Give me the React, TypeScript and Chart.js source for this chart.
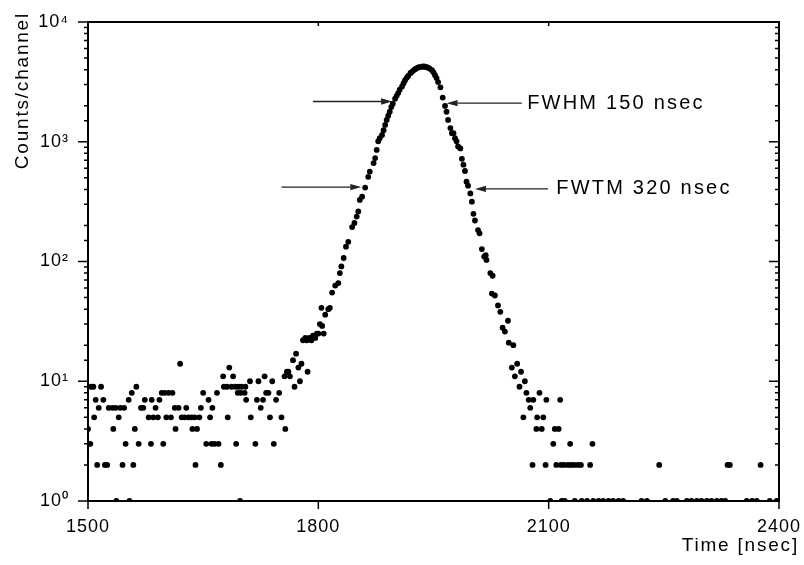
import React, { useEffect, useRef } from 'react';
import { Chart, registerables } from 'chart.js';

Chart.register(...registerables);

const FONT = '"Liberation Sans", Arial, Helvetica, sans-serif';

const xTitle = 'Time [nsec]';
const yTitle = 'Counts/channel';
const xTickValues = [1500, 1800, 2100, 2400];
const supDigits = ['\u2070', '\u00B9', '\u00B2', '\u00B3', '\u2074'];

// Flat background before the peak
const baseTimes = [
  1500, 1503, 1504, 1507, 1508, 1510, 1512, 1514, 1517, 1520,
  1522, 1525, 1527, 1532, 1533, 1536, 1537, 1540, 1542, 1545,
  1547, 1549, 1553, 1554, 1557, 1559, 1561, 1563, 1566, 1569,
  1572, 1574, 1579, 1582, 1583, 1585, 1588, 1591, 1593, 1596,
  1598, 1600, 1602, 1605, 1608, 1610, 1613, 1614, 1618, 1620,
  1622, 1626, 1628, 1631, 1635, 1636, 1639, 1640, 1642, 1645,
  1647, 1650, 1654, 1657, 1659, 1661, 1662, 1665, 1668, 1670,
  1673, 1676, 1677, 1681, 1682, 1684, 1687, 1689, 1692, 1693,
  1695, 1696, 1698, 1699, 1700, 1704, 1705, 1706, 1711, 1712,
  1718, 1720, 1722, 1725, 1728, 1730, 1732, 1735, 1737, 1740,
  1742, 1745, 1749, 1752, 1756, 1757, 1759, 1761, 1763, 1767,
  1769, 1771, 1774, 1776, 1778, 1780, 1783, 1785, 1786, 1788,
  1791, 1793, 1796, 1798,
];
const baseCounts = [
  4, 3, 9, 9, 5, 7, 2, 6, 9, 7,
  2, 2, 6, 6, 4, 6, 1, 5, 6, 2,
  6, 3, 7, 1, 8, 2, 4, 9, 3, 6,
  6, 7, 5, 3, 7, 5, 6, 5, 7, 8,
  3, 8, 5, 8, 5, 8, 6, 4, 6, 14,
  5, 5, 6, 5, 5, 4, 5, 2, 4, 5,
  6, 8, 3, 7, 5, 3, 6, 3, 8, 3,
  2, 11, 9, 9, 5, 13, 9, 11, 9, 3,
  8, 9, 1, 8, 9, 8, 9, 7, 10, 5,
  3, 7, 10, 6, 7, 11, 8, 8, 5, 10,
  3, 7, 8, 5, 11, 4, 12, 12, 11, 15,
  9, 17, 13, 10, 14, 22, 23, 22, 12, 23,
  22, 24, 23, 25,
];

// Peak
const peakTimes = [
  1800, 1802, 1804, 1805, 1807, 1809, 1813, 1815, 1818, 1822,
  1826, 1828, 1830, 1833, 1836, 1839, 1844, 1847, 1850, 1852,
  1854, 1857, 1861, 1865, 1867, 1872, 1874, 1876, 1878, 1880,
  1883, 1885, 1887, 1889, 1891, 1893, 1895, 1897, 1900, 1902,
  1904, 1906, 1909, 1911, 1913, 1915, 1917, 1920, 1922, 1924,
  1926, 1928, 1930, 1932, 1935, 1937, 1939, 1941, 1943, 1945,
  1948, 1950, 1952, 1954, 1956, 1959, 1962, 1965, 1967, 1969,
  1972, 1974, 1976, 1978, 1980, 1982, 1985, 1987, 1989, 1991,
  1993, 1995, 1998, 2000, 2002, 2004, 2008, 2010, 2013, 2016,
  2018, 2019, 2024, 2026, 2027, 2030, 2034, 2037, 2040, 2043,
  2047, 2048, 2052, 2054, 2056, 2059,
];
const peakCounts = [
  25, 30, 41, 29, 25, 36, 40, 41, 55, 63,
  66, 80, 91, 107, 133, 146, 194, 210, 237, 262,
  327, 348, 414, 509, 564, 663, 731, 855, 1010, 1070,
  1140, 1250, 1383, 1520, 1650, 1780, 1950, 2080, 2290, 2420,
  2550, 2720, 2900, 3080, 3270, 3420, 3540, 3750, 3840, 3950,
  4040, 4100, 4170, 4200, 4230, 4250, 4230, 4200, 4150, 4080,
  3960, 3800, 3600, 3400, 3150, 2850, 2340, 1990, 1780, 1520,
  1300, 1180, 1180, 1070, 1010, 913, 880, 720, 644, 570,
  464, 430, 370, 316, 250, 220, 183, 172, 127, 110,
  113, 103, 80, 54, 76, 52, 43, 38, 28, 26,
  32, 21, 13, 20, 11, 14,
];

// Tail after the peak
const tailTimes = [
  2062, 2064, 2067, 2069, 2071, 2074, 2076, 2079, 2080, 2084,
  2085, 2088, 2091, 2093, 2096, 2097, 2102, 2106, 2108, 2110,
  2113, 2115, 2116, 2117, 2120, 2121, 2125, 2128, 2129, 2133,
  2134, 2138, 2142, 2143, 2150, 2154, 2157, 2158, 2165, 2171,
  2178, 2184, 2191, 2197, 2221, 2228, 2244, 2252, 2262, 2267,
  2280, 2286, 2293, 2299, 2306, 2312, 2319, 2325, 2330, 2333,
  2336, 2358, 2365, 2371, 2376, 2388, 2397,
];
const tailCounts = [
  9, 12, 5, 10, 8, 7, 6, 2, 7, 4,
  5, 8, 4, 5, 2, 7, 1, 3, 4, 2,
  4, 7, 2, 1, 2, 1, 2, 3, 2, 2,
  1, 2, 2, 1, 1, 2, 3, 1, 1, 1,
  1, 1, 1, 1, 1, 1, 2, 1, 1, 1,
  1, 1, 1, 1, 1, 1, 1, 1, 1, 2,
  2, 1, 1, 1, 2, 1, 1,
];

// Annotation arrows (data units): tail time -> tip time at a given count level
const arrowFromTimes = [1793, 2065, 1752, 2099];
const arrowToTimes = [1896, 1967, 1856, 2004];
const arrowCounts = [2168, 2101, 418, 404];

const noteTexts = ['FWHM 150 nsec', 'FWTM 320 nsec'];
const noteTimes = [2072, 2110];
const noteCounts = [2101, 404];

const isDecade = (v: number) => {
  const e = Math.log10(v);
  return Math.abs(e - Math.round(e)) < 1e-9;
};

const zip = (xs: number[], ys: number[]) => xs.map((x, i) => ({ x, y: ys[i] }));

const framePlugin = {
  id: 'frameDecor',
  beforeDraw(chart: any) {
    chart.ctx.letterSpacing = '1px';
  },
  afterDraw(chart: any) {
    const ctx = chart.ctx as CanvasRenderingContext2D & { letterSpacing: string };
    const { left, right, top, bottom } = chart.chartArea;
    const xs = chart.scales.x;
    const ys = chart.scales.y;
    ctx.save();
    ctx.letterSpacing = '0px';
    ctx.strokeStyle = '#000';
    ctx.lineWidth = 1.5;
    ctx.beginPath();
    ys.ticks.forEach((t: any) => {
      const py = ys.getPixelForValue(t.value);
      const len = isDecade(t.value) ? 10 : 4;
      ctx.moveTo(left - len, py);
      ctx.lineTo(left, py);
      ctx.moveTo(right, py);
      ctx.lineTo(right - len, py);
    });
    xs.ticks.forEach((t: any) => {
      const px = xs.getPixelForValue(t.value);
      ctx.moveTo(px, bottom);
      ctx.lineTo(px, bottom + 8);
      ctx.moveTo(px, top);
      ctx.lineTo(px, top + 4);
    });
    ctx.stroke();

    ctx.lineWidth = 2;
    ctx.strokeRect(left, top, right - left, bottom - top);

    // arrows
    ctx.strokeStyle = '#222';
    ctx.fillStyle = '#222';
    ctx.lineWidth = 1.3;
    arrowFromTimes.forEach((t0, i) => {
      const x0 = xs.getPixelForValue(t0);
      const x1 = xs.getPixelForValue(arrowToTimes[i]);
      const y = ys.getPixelForValue(arrowCounts[i]);
      const dir = x1 > x0 ? 1 : -1;
      const head = 11;
      ctx.beginPath();
      ctx.moveTo(x0, y);
      ctx.lineTo(x1 - dir * head, y);
      ctx.stroke();
      ctx.beginPath();
      ctx.moveTo(x1, y);
      ctx.lineTo(x1 - dir * head, y - 3.2);
      ctx.lineTo(x1 - dir * head, y + 3.2);
      ctx.closePath();
      ctx.fill();
    });

    // annotation texts
    ctx.fillStyle = '#000';
    ctx.font = `20px ${FONT}`;
    ctx.letterSpacing = '2.2px';
    ctx.textAlign = 'left';
    ctx.textBaseline = 'middle';
    noteTexts.forEach((s, i) => {
      ctx.fillText(s, xs.getPixelForValue(noteTimes[i]), ys.getPixelForValue(noteCounts[i]));
    });

    // axis titles
    ctx.font = `19px ${FONT}`;
    ctx.letterSpacing = '1.8px';
    ctx.textBaseline = 'alphabetic';
    ctx.textAlign = 'right';
    ctx.fillText(xTitle, right + 20, bottom + 49.5);
    ctx.save();
    ctx.translate(left - 60, top - 10);
    ctx.rotate(-Math.PI / 2);
    ctx.textAlign = 'left';
    const w = ctx.measureText(yTitle).width;
    ctx.fillText(yTitle, -w, 0);
    ctx.restore();

    ctx.restore();
  },
};

export default function App() {
  const ref = useRef<HTMLCanvasElement>(null);
  useEffect(() => {
    const canvas = ref.current;
    if (!canvas) return;
    const pointStyle = {
      showLine: false,
      pointRadius: 2.9,
      pointHoverRadius: 2.9,
      pointBackgroundColor: '#000',
      pointBorderWidth: 0,
      borderColor: '#000',
      backgroundColor: '#000',
    };
    const chart = new Chart(canvas, {
      type: 'scatter',
      data: {
        datasets: [
          { label: 'background', data: zip(baseTimes, baseCounts), ...pointStyle },
          { label: 'peak', data: zip(peakTimes, peakCounts), ...pointStyle },
          { label: 'tail', data: zip(tailTimes, tailCounts), ...pointStyle },
        ],
      },
      options: {
        animation: false,
        responsive: false,
        devicePixelRatio: 1,
        events: [],
        layout: { padding: { left: 0, right: 25, top: 22, bottom: 0 } },
        plugins: { legend: { display: false }, tooltip: { enabled: false } },
        scales: {
          x: {
            type: 'linear',
            min: 1500,
            max: 2400,
            afterFit: (s: any) => {
              s.height = 64;
              s.paddingLeft = 0;
              s.paddingRight = 0;
            },
            afterBuildTicks: (s: any) => { s.ticks = xTickValues.map((v) => ({ value: v })); },
            ticks: {
              color: '#000',
              font: { family: FONT, size: 18 },
              padding: 15,
              autoSkip: false,
              maxRotation: 0,
              callback: (v: any) => String(v),
            },
            grid: { display: false, drawTicks: false },
            border: { display: false },
            title: { display: false, text: xTitle },
          },
          y: {
            type: 'logarithmic',
            min: 1,
            max: 10000,
            afterFit: (s: any) => {
              s.width = 88;
              s.paddingTop = 0;
              s.paddingBottom = 0;
            },
            ticks: {
              color: '#000',
              font: { family: FONT, size: 18 },
              padding: 19,
              autoSkip: false,
              callback: (v: any) => {
                const n = Number(v);
                if (!isDecade(n)) return '';
                return '10' + supDigits[Math.round(Math.log10(n))];
              },
            },
            grid: { display: false, drawTicks: false },
            border: { display: false },
            title: { display: false, text: yTitle },
          },
        },
      } as any,
      plugins: [framePlugin],
    });
    return () => chart.destroy();
  }, []);
  return (
    <div style={{ position: 'absolute', left: 0, top: 0, width: 804, height: 565, background: '#fff' }}>
      <canvas ref={ref} width={804} height={565} style={{ display: 'block', width: 804, height: 565 }} />
    </div>
  );
}
